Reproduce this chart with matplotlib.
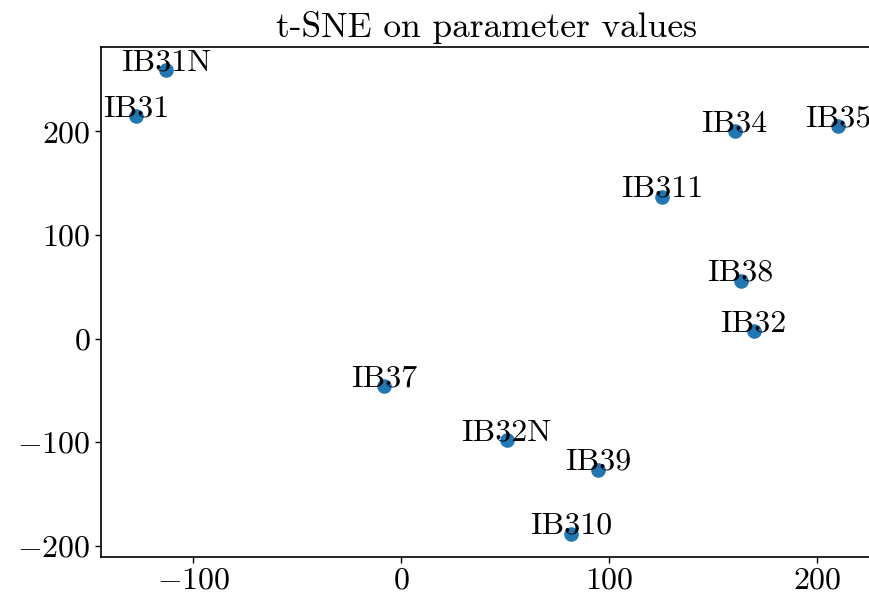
import matplotlib
matplotlib.use("Agg")
import matplotlib.pyplot as plt
from matplotlib.ticker import MultipleLocator

plt.rcParams['font.family'] = ['cmr10', 'DejaVu Sans']
plt.rcParams['mathtext.fontset'] = 'cm'
plt.rcParams['axes.formatter.use_mathtext'] = True

labels = ["IB31N", "IB31", "IB34", "IB35", "IB311", "IB38", "IB32",
          "IB37", "IB32N", "IB39", "IB310"]
tsne_x = [-113, -127.5, 160.4, 210.1, 125.6, 163.3, 169.6,
          -8.2, 50.7, 94.7, 81.6]
tsne_y = [259.1, 214.5, 200.0, 204.8, 137.0, 55.7, 7.3,
          -46.0, -98.3, -126.4, -188.4]

fig = plt.figure(figsize=(8.69, 5.99), dpi=100)
ax = fig.add_axes([101 / 869, 1 - 557 / 599, 772 / 869, (557 - 47) / 599])

ax.scatter(tsne_x, tsne_y, s=90, color='#1f77b4', zorder=2)
for lab, x, y in zip(labels, tsne_x, tsne_y):
    ax.text(x, y, lab, ha='center', va='baseline', fontsize=23, zorder=3)

ax.xaxis.set_major_locator(MultipleLocator(100))
ax.yaxis.set_major_locator(MultipleLocator(100))
ax.set_title("t-SNE on parameter values", fontsize=25.5, pad=7)
ax.tick_params(labelsize=23, width=1, length=4)
ax.spines['right'].set_visible(False)
for s in ['left', 'bottom', 'top']:
    ax.spines[s].set_linewidth(1.2)

fig.savefig("out.png", dpi=100)
